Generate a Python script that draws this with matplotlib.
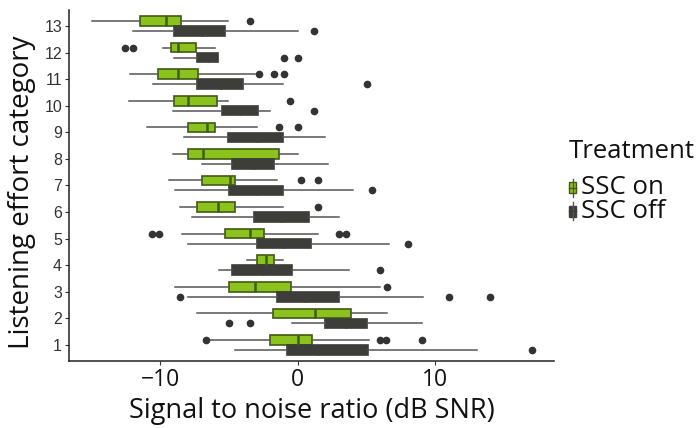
import matplotlib.pyplot as plt
from matplotlib.patches import Rectangle
from matplotlib.lines import Line2D

categories = list(range(1, 14))

# SSC on (green), index 0 = category 1
on_lo  = [-6.45, -7.3, -8.9, -3.7, -8.4, -8.6, -9.4, -9.05, -11.0, -12.3, -12.2, -9.8, -15.0]
on_q1  = [-2.0, -1.8, -5.0, -3.0, -5.3, -7.3, -7.0, -8.0, -8.0, -9.0, -10.2, -9.2, -11.5]
on_med = [0.0, 1.25, -3.1, -2.3, -3.5, -5.8, -4.9, -6.9, -6.6, -8.0, -8.7, -8.7, -9.6]
on_q3  = [1.0, 3.85, -0.5, -1.7, -2.45, -4.6, -4.6, -1.37, -6.0, -5.9, -7.25, -7.4, -8.5]
on_hi  = [5.2, 6.5, 6.0, -1.05, 1.5, -1.05, -1.5, 0.0, -3.0, -5.05, -3.1, -6.0, -5.05]
on_out = [[-6.7, 6.0, 6.4, 9.0], [], [6.5], [], [-10.6, -10.1, 3.0, 3.5], [1.5],
          [0.2, 1.5], [], [-1.35, 0.0], [-0.6], [-2.8, -1.7, -1.0], [-12.6, -12.0], [-3.5]]

# SSC off (dark grey)
off_lo  = [-4.6, -0.4, -8.0, -5.7, -8.0, -7.7, -8.9, -7.0, -8.3, -9.1, -10.5, -9.0, -12.0]
off_q1  = [-0.8, 2.0, -1.5, -4.8, -3.0, -3.2, -5.0, -4.8, -5.1, -5.5, -7.35, -7.35, -9.0]
off_med = [1.5, 3.5, 0.5, -2.5, -1.0, -1.2, -3.0, -3.2, -3.0, -4.2, -5.6, -6.5, -7.0]
off_q3  = [5.1, 5.05, 3.0, -0.45, 0.95, 0.8, -1.05, -1.7, -1.1, -2.9, -4.0, -5.8, -5.3]
off_hi  = [13.0, 9.0, 9.1, 3.7, 6.6, 3.0, 4.0, 2.2, 2.0, -2.0, -1.05, -5.8, 0.0]
off_out = [[17.0], [-5.0, -3.5], [-8.6, 11.0, 14.0], [6.0], [8.0], [], [5.4],
           [], [], [1.2], [5.0], [-1.0, 0.0], [1.2]]

GREEN = '#8cc21e'
GREEN_EDGE = '#3e5c12'
DARK = '#3d3d39'
WHISK = '#555555'


def make_stats(lo, q1, med, q3, hi, out):
    return [dict(whislo=a, q1=b, med=c, q3=d, whishi=e, fliers=f)
            for a, b, c, d, e, f in zip(lo, q1, med, q3, hi, out)]


fig = plt.figure(figsize=(6.97, 4.28), dpi=100)
ax = fig.add_axes([69 / 697, 1 - 360.7 / 428, (554.3 - 69) / 697, (360.7 - 10) / 428])

flier = dict(marker='o', markerfacecolor='#333333', markeredgecolor='#333333', markersize=4.5)

ax.bxp(make_stats(on_lo, on_q1, on_med, on_q3, on_hi, on_out),
       positions=[c + 0.1875 for c in categories], widths=0.36,
       orientation='horizontal', patch_artist=True, showcaps=False,
       boxprops=dict(facecolor=GREEN, edgecolor=GREEN_EDGE, linewidth=1.2),
       medianprops=dict(color=GREEN_EDGE, linewidth=1.8),
       whiskerprops=dict(color=WHISK, linewidth=1.1),
       flierprops=flier)
ax.bxp(make_stats(off_lo, off_q1, off_med, off_q3, off_hi, off_out),
       positions=[c - 0.1875 for c in categories], widths=0.36,
       orientation='horizontal', patch_artist=True, showcaps=False,
       boxprops=dict(facecolor=DARK, edgecolor=DARK, linewidth=1.2),
       medianprops=dict(color=DARK, linewidth=1.8),
       whiskerprops=dict(color=WHISK, linewidth=1.1),
       flierprops=flier)

ax.set_xlim(-16.64, 18.65)
ax.set_ylim(0.41, 13.6)
ax.set_yticks(categories)
ax.set_yticklabels([str(c) for c in categories], family=['Liberation Sans Narrow', 'Liberation Sans'],
                   fontsize=11.5, color='#333333')
ax.set_xticks([-10, 0, 10])
ax.set_xticklabels(['\u221210', '0', '10'], family='Open Sans', fontsize=16.5, color='#111111')
ax.tick_params(length=3, width=0.8, color='#333333', pad=2)
for s in ['top', 'right']:
    ax.spines[s].set_visible(False)
for s in ['left', 'bottom']:
    ax.spines[s].set_linewidth(1.1)
    ax.spines[s].set_color('#222222')

fig.text(311.5 / 697, 1 - 411 / 428, 'Signal to noise ratio (dB SNR)', ha='center', va='center',
         family='Open Sans', fontsize=19.5, color='#111111')
fig.text(22 / 697, 1 - 192 / 428, 'Listening effort category', ha='center', va='center',
         rotation=90, family='Open Sans', fontsize=20, color='#111111')

# legend drawn by hand, ggplot style
fig.text(569 / 697, 1 - 152 / 428, 'Treatment', ha='left', va='center',
         family='Open Sans', fontsize=18.5, color='#111111')
for yc, fc, ec, lab in [(188, GREEN, GREEN_EDGE, 'SSC on'), (211, DARK, DARK, 'SSC off')]:
    fig.add_artist(Line2D([572.5 / 697] * 2, [1 - (yc - 9) / 428, 1 - (yc + 9) / 428],
                          color=WHISK, linewidth=1.0, transform=fig.transFigure))
    fig.add_artist(Rectangle((569 / 697, 1 - (yc + 5.5) / 428), 7 / 697, 11 / 428,
                             facecolor=fc, edgecolor=ec, linewidth=1.0, transform=fig.transFigure))
    fig.add_artist(Line2D([569 / 697, 576 / 697], [1 - yc / 428] * 2,
                          color=ec, linewidth=1.0, transform=fig.transFigure))
    fig.text(581 / 697, 1 - yc / 428, lab, ha='left', va='center',
             family='Open Sans', fontsize=18.5, color='#111111')

fig.savefig('out.png', dpi=100)
